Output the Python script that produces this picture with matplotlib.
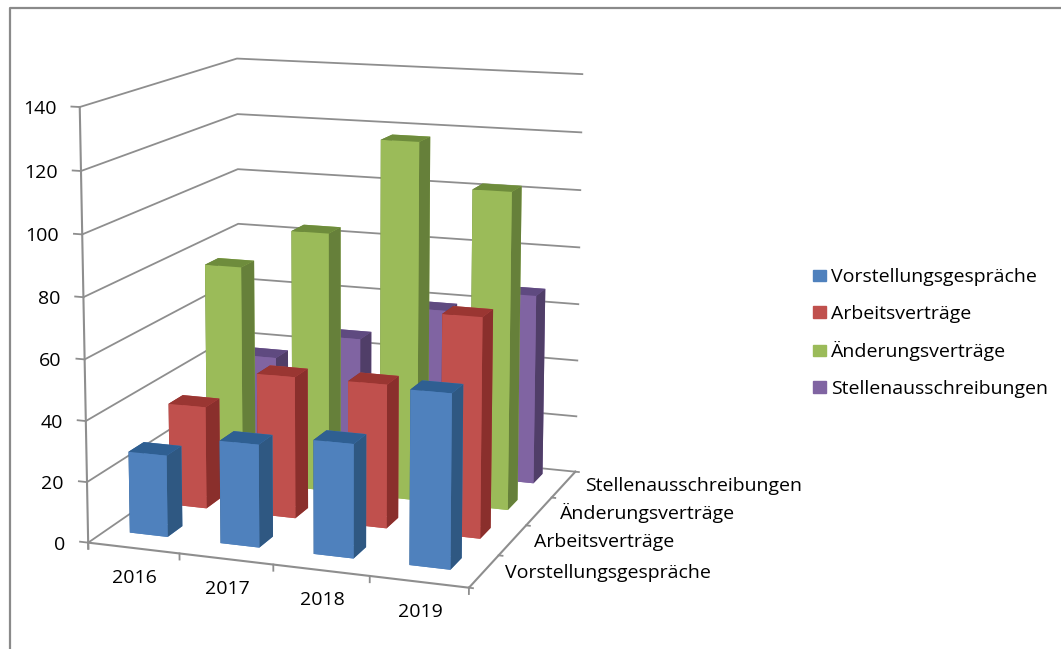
import numpy as np
import matplotlib
matplotlib.use('Agg')
import matplotlib.pyplot as plt
from matplotlib.lines import Line2D
from matplotlib.patches import Patch
from mpl_toolkits.mplot3d import proj3d

years = ['2016', '2017', '2018', '2019']
series = ['Vorstellungsgespräche', 'Arbeitsverträge', 'Änderungsverträge', 'Stellenausschreibungen']
blue = [27, 33.7, 37, 56]
red = [34.7, 47.7, 48, 72.7]
green = [75.5, 89.3, 122, 107.3]
purple = [36.3, 45.7, 58.3, 66]
values = [blue, red, green, purple]
z_ticks = [0, 20, 40, 60, 80, 100, 120, 140]

front = ['#4F81BD', '#C0504D', '#9BBB59', '#8064A2']
top = ['#2F5F92', '#9A3632', '#6E8C3C', '#5F4A80']
side = ['#2F5882', '#8A2F2C', '#66803A', '#503E68']
grid_col = '#8E8E8E'
font = 'Open Sans'
size = 14

W, H = 1061, 649
fig = plt.figure(figsize=(W / 100, H / 100), dpi=100)
ax = fig.add_subplot(projection='3d', computed_zorder=False)
ax.set_xlim(0, 4)
ax.set_ylim(0, 4)
ax.set_zlim(0, 140)
ax.view_init(elev=11.447, azim=-70.275)
ax.set_box_aspect((1.0091, 1.0234, 1))
ax.set_proj_type('persp', focal_length=0.698)
ax.set_axis_off()

# fixed view window so the wall corners land on the reference pixels
ax.viewLim.intervalx = (-0.095, 0.09)
ax.viewLim.intervaly = (-0.07625, 0.09)
side_px = 647.76
ax.set_position([10.54 / W, (H - 597.95) / H, side_px / W, side_px / H])


def label(x, y, z, text, dx, dy, ha):
    px, py, _ = proj3d.proj_transform(x, y, z, ax.get_proj())
    ax.annotate(text, (px, py), xytext=(dx, dy), textcoords='offset pixels', ha=ha,
                va='center_baseline', family=font, fontsize=size, color='black')


# walls
for z in z_ticks:
    ax.plot([-0.09, 0], [0, 0], [z, z], color=grid_col, lw=1.3, zorder=1)
    if z > 0:
        ax.plot([0, 0, 4], [0, 4, 4], [z, z, z], color=grid_col, lw=1.3, zorder=1)
    label(0, 0, z, str(z), -23, 0, 'right')
ax.plot([0, 0], [0, 0], [-2, 140], color=grid_col, lw=1.5, zorder=1)
ax.plot([4, 0], [4, 4], [0, 0], color=grid_col, lw=1.3, zorder=1)
ax.plot([0, 0], [0, 4], [0, 0], color=grid_col, lw=1.3, zorder=1)

# floor axes
ax.plot([0, 4], [0, 0], [0, 0], color=grid_col, lw=1.5, zorder=2)
ax.plot([4, 4], [0, 4], [0, 0], color=grid_col, lw=1.5, zorder=2)
for i in range(5):
    ax.plot([i, i], [0, 0], [0, -2], color=grid_col, lw=1.3, zorder=2)
    ax.plot([4, 4.04], [i, i], [0, 0], color=grid_col, lw=1.3, zorder=2)

# bars, back row first
order = 10
for j in range(3, -1, -1):
    for i in range(4):
        cols = [front[j], top[j], front[j], front[j], side[j], side[j]]
        ax.bar3d(i + 0.26, j + 0.43, 0, 0.42, 0.37, values[j][i], color=cols, shade=False,
                 linewidth=0, zorder=order)
        order += 1

for i, y in enumerate(years):
    label(i + 0.5, 0, 0, y, 1, -28, 'center')
for j, s in enumerate(series):
    label(4, j + 0.5, 0, s, 21, 0, 'left')

handles = [Patch(color=c, label=s) for c, s in zip(front, series)]
fig.legend(handles=handles, loc='center left', bbox_to_anchor=(813 / W, 1 - 333 / H), frameon=False,
           prop={'family': font, 'size': size}, labelspacing=0.95, handlelength=0.67, handleheight=0.55,
           handletextpad=0.26, borderpad=0, borderaxespad=0)

# only the top and left edges of the chart frame are in the crop
fig.add_artist(Line2D([10 / W, 10 / W, 1], [0, 1 - 8 / H, 1 - 8 / H], transform=fig.transFigure,
                      color='#8A8A8A', lw=1.6))

fig.savefig('out.png', dpi=100)
